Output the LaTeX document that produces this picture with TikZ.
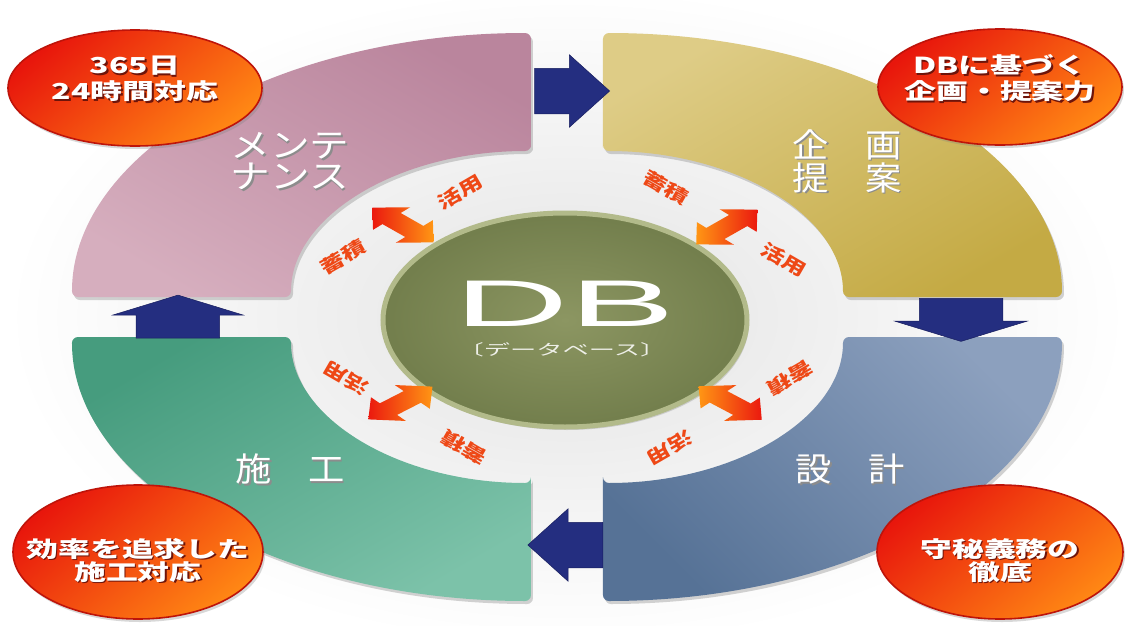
\documentclass[tikz,border=0pt]{standalone}
\usepackage{fontspec}
\setmainfont{Liberation Sans}
\newfontfamily\jp{Noto Sans CJK JP}
\usetikzlibrary{shapes.geometric, shapes.arrows, shadows, positioning}

\definecolor{pinkA}{RGB}{186,133,157}
\definecolor{pinkB}{RGB}{214,174,190}
\definecolor{yelA}{RGB}{196,170,68}
\definecolor{yelB}{RGB}{222,204,134}
\definecolor{tealA}{RGB}{70,156,126}
\definecolor{tealB}{RGB}{124,194,169}
\definecolor{bluA}{RGB}{86,114,150}
\definecolor{bluB}{RGB}{140,160,190}
\definecolor{navyA}{RGB}{36,46,128}
\definecolor{navyD}{RGB}{24,30,95}
\definecolor{spotR}{RGB}{232,22,12}
\definecolor{spotO}{RGB}{255,135,20}
\definecolor{spotD}{RGB}{190,20,10}
\definecolor{spotS}{RGB}{110,20,10}
\definecolor{dblR}{RGB}{235,25,15}
\definecolor{dblO}{RGB}{255,150,20}
\definecolor{tagC}{RGB}{238,72,22}
\definecolor{dbIn}{RGB}{140,150,98}
\definecolor{dbOut}{RGB}{114,126,76}
\definecolor{dbRim}{RGB}{178,186,138}

% text with a dark shadow, stretched sideways
\newcommand{\shtx}[3]{\leavevmode\rlap{\hspace*{1.5pt}\raisebox{-1.5pt}{\textcolor{#1}{\scalebox{#2}[1]{#3}}}}\scalebox{#2}[1]{#3}}
\newcommand{\sx}[2]{\scalebox{#1}[1]{#2}}
\newcommand{\spl}[1]{\shtx{spotS}{1.45}{#1}}

\begin{document}
\begin{tikzpicture}[x=1pt, y=1pt,
	quad/.style = {rounded corners=6pt, drop shadow={shadow xshift=2pt, shadow yshift=-3pt, opacity=.35}},
	qlbl/.style = {text=white, align=center, inner sep=0pt, font=\jp\fontsize{33}{31}\selectfont},
	spot/.style = {ellipse, draw=spotD, line width=1.6pt, inner sep=0pt, top color=spotR, middle color=spotR,
		bottom color=spotO, shading angle=40, drop shadow={shadow xshift=2pt, shadow yshift=-3pt, opacity=.3}},
	spottxt/.style = {align=center, text=white, inner sep=0pt, font=\jp\bfseries\fontsize{22}{26}\selectfont},
	flow/.style = {single arrow, single arrow head extend=#1, inner sep=0pt, text width=0pt, text depth=0pt,
		draw=navyD, line width=.5pt, fill=navyA},
	dbl/.style = {double arrow, transform shape, inner sep=0pt, minimum height=50, text height=15, text depth=0pt,
		text width=0pt, double arrow head extend=8},
	tag/.style = {text=tagC, inner sep=0pt, font=\jp\bfseries\fontsize{18}{18}\selectfont},
	dbc/.style = {ellipse, minimum width=364, minimum height=214, inner sep=0pt, draw=dbRim, line width=5pt,
		inner color=dbIn, outer color=dbOut, drop shadow={shadow xshift=2pt, shadow yshift=-3pt, opacity=.3}},
	]
\useasboundingbox (-567,-308) rectangle (561,317);
\fill[white] (-567,-308) rectangle (561,317);
\shade[inner color=gray!22, outer color=white] (0,0) ellipse [x radius=560, y radius=330];

% quadrants, clockwise from top left
\path[quad, top color=pinkA, bottom color=pinkB, shading angle=-30] (-36,166) -- ++(0,118)
	arc[start angle=90, end angle=180, x radius=459, y radius=264] -- ++(219,0)
	arc[start angle=180, end angle=90, x radius=240, y radius=146] -- cycle;
\path[quad, top color=yelB, bottom color=yelA, shading angle=30] (36,166) -- ++(0,118)
	arc[start angle=90, end angle=0, x radius=459, y radius=264] -- ++(-219,0)
	arc[start angle=0, end angle=90, x radius=240, y radius=146] -- cycle;
\path[quad, top color=bluB, bottom color=bluA, shading angle=-45] (36,-166) -- ++(0,-118)
	arc[start angle=270, end angle=360, x radius=459, y radius=264] -- ++(-219,0)
	arc[start angle=0, end angle=-90, x radius=240, y radius=146] -- cycle;
\path[quad, top color=tealA, bottom color=tealB, shading angle=30] (-36,-166) -- ++(0,-118)
	arc[start angle=270, end angle=180, x radius=459, y radius=264] -- ++(219,0)
	arc[start angle=180, end angle=270, x radius=240, y radius=146] -- cycle;

\node[qlbl] (mnt) at (-277,155) {\shtx{black!45}{1.2}{メンテ}\\\shtx{black!45}{1.2}{ナンス}};
\node[qlbl] (plan) at (280,155) {\shtx{black!45}{1.1}{企　画}\\\shtx{black!45}{1.1}{提　案}};
\node[qlbl] (dsgn) at (283,-153) {\shtx{black!45}{1.1}{設　計}};
\node[qlbl] (cons) at (-277,-153) {\shtx{black!45}{1.1}{施　工}};

% flow between the quadrants
\node[flow=13.5, minimum height=75, text height=45, single arrow tip angle=84] (a1) at (-7.5,226) {};
\node[flow=24.5, minimum height=43, text height=83, single arrow tip angle=146, rotate=-90] (a2) at (394,3.5) {};
\node[flow=13.5, minimum height=75, text height=45, single arrow tip angle=84, rotate=180] (a3) at (11,-228) {};
\node[flow=23.5, minimum height=43, text height=83, single arrow tip angle=146, rotate=90] (a4) at (-389,-6) {};

% database in the middle
\node[dbc] (db) at (-2,-3) {};
\node[text=white, inner sep=0pt, font=\fontsize{66}{66}\selectfont] (dbt) at (-2,13) {\sx{2.4}{DB}};
\node[text=white!85!dbIn, inner sep=0pt, font=\jp\fontsize{15}{15}\selectfont] (dbs) at (-5,-33) {\sx{1.75}{〔データベース〕}};

\begin{scope}[xscale=1.7]
\node[dbl, rotate=136, left color=dblR, right color=dblO] (x1) at (-96.5,92) {};
\node[dbl, rotate=44, left color=dblO, right color=dblR] (x2) at (94,90) {};
\node[dbl, rotate=221, left color=dblR, right color=dblO] (x3) at (-98,-86) {};
\node[dbl, rotate=318, left color=dblO, right color=dblR] (x4) at (96,-86) {};
\end{scope}

\node[tag, rotate=30] (u1) at (-107,125) {\sx{1.35}{活用}};
\node[tag, rotate=30] (k1) at (-224,60) {\sx{1.35}{蓄積}};
\node[tag, rotate=-30] (k2) at (99,129) {\sx{1.35}{蓄積}};
\node[tag, rotate=-30] (u2) at (217,57) {\sx{1.35}{活用}};
\node[tag, rotate=150] (u3) at (-221,-61) {\sx{1.35}{活用}};
\node[tag, rotate=150] (k3) at (-103,-130) {\sx{1.35}{蓄積}};
\node[tag, rotate=210] (k4) at (223,-61) {\sx{1.35}{蓄積}};
\node[tag, rotate=210] (u4) at (103,-131) {\sx{1.35}{活用}};

% strengths, corner by corner
\node[spot, minimum width=254, minimum height=116,
	label={[spottxt, yshift=8]center:{\spl{365日}\\\spl{24時間対応}}}] (s1) at (-432,229) {};
\node[spot, minimum width=244, minimum height=116,
	label={[spottxt, yshift=8]center:{\spl{DBに基づく}\\\spl{企画・提案力}}}] (s2) at (433,230) {};
\node[spot, minimum width=246, minimum height=134,
	label={[spottxt, yshift=-9, font=\jp\bfseries\fontsize{22}{23}\selectfont]center:{\spl{守秘義務の}\\\spl{徹底}}}] (s3) at (433,-235) {};
\node[spot, minimum width=250, minimum height=134,
	label={[spottxt, yshift=-9, font=\jp\bfseries\fontsize{22}{23}\selectfont]center:{\spl{効率を追求した}\\\spl{施工対応}}}] (s4) at (-429,-235) {};
\end{tikzpicture}
\end{document}
